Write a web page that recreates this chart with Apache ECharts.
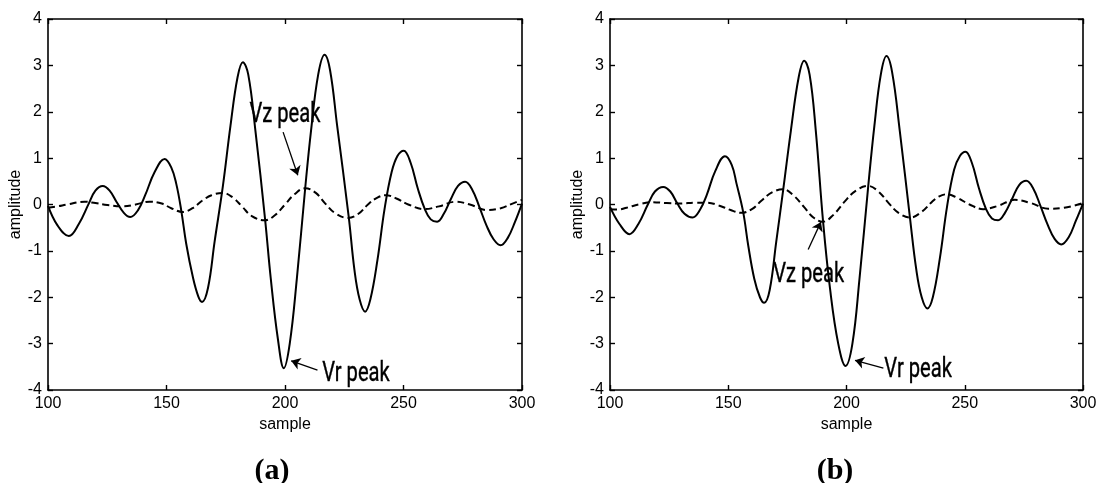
<!DOCTYPE html>
<html>
<head>
<meta charset="utf-8">
<script src="https://cdn.jsdelivr.net/npm/echarts@6/dist/echarts.min.js"></script>
<style>
html,body{margin:0;padding:0;background:#fff;}
#chart{width:1100px;height:483px;}
</style>
</head>
<body>
<div id="chart"></div>
<script>
// ---- Data (sample, amplitude) ----
var xTicks = [100, 150, 200, 250, 300];
var yTicks = [-4, -3, -2, -1, 0, 1, 2, 3, 4];

var solidA = [[100,-0.03],[104,-0.45],[108.8,-0.68],[113,-0.42],[117.2,0.02],[120,0.30],[123.1,0.40],[126,0.30],[129,0.05],[132,-0.18],[134.7,-0.27],[138,-0.12],[141,0.20],[145,0.70],[149.2,0.98],[152,0.80],[154.1,0.45],[156.2,-0.12],[158.3,-0.84],[161.1,-1.56],[163.4,-1.98],[165,-2.10],[167.5,-1.80],[170.3,-0.8],[173.8,0.40],[177,1.7],[180,2.75],[182.2,3.07],[184.5,2.8],[187.5,1.6],[191.6,-0.32],[194,-1.6],[197,-2.9],[199.5,-3.53],[202,-3.0],[205,-1.6],[208.5,0.34],[211,1.6],[214,2.8],[216.7,3.23],[219,2.9],[222,1.7],[226.9,-0.27],[229.3,-1.41],[231.5,-2.05],[233.8,-2.31],[236,-2.05],[239,-1.2],[242,-0.1],[245,0.7],[247.5,1.05],[250.1,1.16],[253,0.9],[256,0.35],[259,-0.1],[261.5,-0.32],[264.2,-0.37],[267,-0.2],[270,0.12],[273,0.40],[276,0.49],[279,0.32],[282,-0.05],[285,-0.45],[288,-0.75],[291,-0.88],[294,-0.72],[297,-0.38],[300,0.02]];

var dashedA = [[100,-0.07],[104,-0.04],[108,0.0],[115.4,0.06],[120,0.03],[125,-0.01],[131.6,-0.04],[137,0.0],[142.8,0.06],[148,0.02],[152,-0.08],[156.9,-0.16],[161,-0.08],[165,0.08],[169,0.2],[173.8,0.25],[178,0.15],[182,-0.05],[186,-0.25],[191.5,-0.34],[196,-0.22],[200,0.0],[204,0.22],[208.5,0.35],[213,0.25],[217,0.02],[221,-0.18],[226.6,-0.29],[231,-0.2],[235,0.0],[239,0.15],[242.6,0.20],[247,0.13],[252,0.0],[258.8,-0.10],[265,-0.04],[272.1,0.06],[278,0.0],[285.5,-0.12],[291,-0.08],[296,0.02],[300,0.1]];

var solidB = [[100,-0.05],[104,-0.42],[108.2,-0.64],[112,-0.42],[116,0.0],[119,0.28],[122.5,0.38],[125.5,0.28],[128.5,0.02],[131.5,-0.2],[134.9,-0.28],[138,-0.12],[141,0.22],[144.5,0.72],[148.6,1.04],[151.5,0.85],[153.5,0.45],[156.3,-0.16],[158.5,-0.9],[161,-1.6],[163.4,-2.0],[165.2,-2.12],[167.5,-1.85],[170.3,-0.8],[173.3,0.34],[176.5,1.6],[179.8,2.75],[182.1,3.10],[184.4,2.8],[187,1.6],[190.1,-0.37],[193,-1.8],[196.5,-3.0],[199.6,-3.48],[202.5,-3.0],[205.5,-1.6],[209.2,0.40],[211.8,1.7],[214.5,2.8],[216.9,3.20],[219.3,2.85],[222.5,1.6],[226.8,-0.27],[229.5,-1.4],[231.8,-2.0],[234.2,-2.24],[236.5,-2.0],[239.5,-1.15],[242.5,-0.05],[245.5,0.75],[248,1.05],[250.3,1.14],[253,0.9],[256,0.35],[259,-0.1],[261.5,-0.3],[264.1,-0.34],[267,-0.18],[270,0.12],[273,0.42],[276,0.51],[279,0.34],[282,-0.03],[285,-0.43],[288,-0.74],[290.8,-0.86],[294,-0.7],[297,-0.35],[300,0.02]];

var dashedB = [[100,-0.10],[103,-0.11],[107,-0.07],[112,0.0],[117.6,0.05],[124,0.03],[130,0.02],[136,0.04],[141,0.04],[146,-0.02],[151,-0.12],[155.6,-0.18],[160,-0.1],[164,0.08],[168.5,0.26],[173.2,0.33],[177.5,0.2],[182,-0.05],[186,-0.28],[190.1,-0.37],[194.5,-0.22],[199,0.05],[204,0.3],[209.2,0.40],[213.5,0.28],[218,0.02],[222,-0.18],[227,-0.28],[232,-0.15],[236,0.05],[239,0.17],[242.3,0.22],[247,0.14],[252,0.0],[257.8,-0.10],[264,-0.03],[271.2,0.10],[278,0.03],[285.3,-0.09],[292,-0.07],[300,0.03]];

// annotation anchors (data coordinates): arrow tail, arrow tip, text left/middle
var vzArrowA = [[199.2,1.56],[205.4,0.63]];
var vrArrowA = [[213.7,-3.57],[202.6,-3.37]];
var vzArrowB = [[183.8,-0.97],[189.2,-0.375]];
var vrArrowB = [[215.6,-3.53],[203.6,-3.36]];
var vzTextA = [185.0,1.93];
var vrTextA = [215.7,-3.66];
var vzTextB = [169.0,-1.52];
var vrTextB = [216.0,-3.57];
var annText = ['Vz peak','Vr peak'];
var panelLabels = ['(a)','(b)'];
var xName = 'sample', yName = 'amplitude';

var chart = echarts.init(document.getElementById('chart'), null, {renderer:'canvas'});

var tickFont = {fontFamily:'Liberation Sans, Arial, sans-serif', fontSize:16, color:'#000'};
function xAxes(gi){
  return [
    {type:'value', gridIndex:gi, position:'bottom', min:100, max:300, interval:50,
     axisLine:{show:true, onZero:false, lineStyle:{color:'#000', width:1.6}},
     axisTick:{show:true, inside:true, length:5, lineStyle:{color:'#000', width:1.4}},
     axisLabel:Object.assign({margin:6}, tickFont),
     splitLine:{show:false},
     name:xName, nameLocation:'middle', nameGap:27,
     nameTextStyle:{fontFamily:'Liberation Sans, Arial, sans-serif', fontSize:16, color:'#000'}},
    {type:'value', gridIndex:gi, position:'top', min:100, max:300, interval:50,
     axisLine:{show:true, onZero:false, lineStyle:{color:'#000', width:1.6}},
     axisTick:{show:true, inside:true, length:5, lineStyle:{color:'#000', width:1.4}},
     axisLabel:{show:false}, splitLine:{show:false}}
  ];
}
function yAxes(gi){
  return [
    {type:'value', gridIndex:gi, position:'left', min:-4, max:4, interval:1,
     axisLine:{show:true, onZero:false, lineStyle:{color:'#000', width:1.6}},
     axisTick:{show:true, inside:true, length:5, lineStyle:{color:'#000', width:1.4}},
     axisLabel:Object.assign({margin:6}, tickFont),
     splitLine:{show:false},
     name:yName, nameLocation:'middle', nameGap:23, nameRotate:90,
     nameTextStyle:{fontFamily:'Liberation Sans, Arial, sans-serif', fontSize:16, color:'#000'}},
    {type:'value', gridIndex:gi, position:'right', min:-4, max:4, interval:1,
     axisLine:{show:true, onZero:false, lineStyle:{color:'#000', width:1.6}},
     axisTick:{show:true, inside:true, length:5, lineStyle:{color:'#000', width:1.4}},
     axisLabel:{show:false}, splitLine:{show:false}}
  ];
}
function arrowLine(pair){
  return {
    silent:true, symbol:['none','arrow'], symbolSize:9,
    lineStyle:{color:'#000', width:1.3, type:'solid', opacity:1},
    itemStyle:{color:'#000'},
    label:{show:false}, emphasis:{disabled:true}, animation:false,
    data:[[{coord:pair[0]},{coord:pair[1]}]]
  };
}
function solidSeries(data, xi, yi, marks){
  return {type:'line', xAxisIndex:xi, yAxisIndex:yi, data:data, smooth:0.4, showSymbol:false,
    lineStyle:{color:'#000', width:2}, itemStyle:{color:'#000'}, animation:false, silent:true, z:3, markLine:marks};
}
function dashedSeries(data, xi, yi, marks){
  return {type:'line', xAxisIndex:xi, yAxisIndex:yi, data:data, smooth:0.4, showSymbol:false,
    lineStyle:{color:'#000', width:2, type:[7,4]}, itemStyle:{color:'#000'}, animation:false, silent:true, z:2, markLine:marks};
}

var option = {
  backgroundColor:'#fff',
  animation:false,
  grid:[
    {left:48, top:19, width:474, height:371, containLabel:false},
    {left:610, top:19, width:473, height:371, containLabel:false}
  ],
  xAxis: xAxes(0).concat(xAxes(1)),
  yAxis: yAxes(0).concat(yAxes(1)),
  series:[
    solidSeries(solidA, 0, 0, arrowLine(vrArrowA)),
    dashedSeries(dashedA, 0, 0, arrowLine(vzArrowA)),
    solidSeries(solidB, 2, 2, arrowLine(vrArrowB)),
    dashedSeries(dashedB, 2, 2, arrowLine(vzArrowB))
  ]
};
chart.setOption(option);

function annGraphic(gridIndex, pt, txt){
  var p = chart.convertToPixel({xAxisIndex: gridIndex*2, yAxisIndex: gridIndex*2}, pt);
  return {type:'text', x:p[0], y:p[1], scaleX:0.72, silent:true,
    style:{text:txt, font:'28px Roboto, sans-serif', fill:'#000', stroke:'#000', lineWidth:0.4, align:'left', verticalAlign:'middle'}};
}
chart.setOption({
  graphic:[
    annGraphic(0, vzTextA, annText[0]),
    annGraphic(0, vrTextA, annText[1]),
    annGraphic(1, vzTextB, annText[0]),
    annGraphic(1, vrTextB, annText[1]),
    {type:'text', x:272, y:471, silent:true,
     style:{text:panelLabels[0], font:'bold 30px "Liberation Serif", "Times New Roman", serif', fill:'#000', align:'center', verticalAlign:'middle'}},
    {type:'text', x:835, y:471, silent:true,
     style:{text:panelLabels[1], font:'bold 30px "Liberation Serif", "Times New Roman", serif', fill:'#000', align:'center', verticalAlign:'middle'}}
  ]
});
</script>
</body>
</html>
